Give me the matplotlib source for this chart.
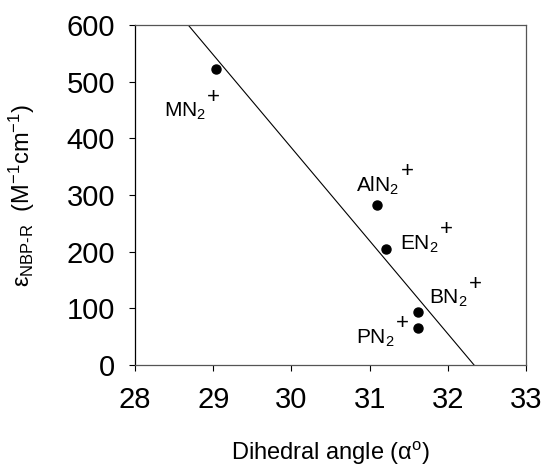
import numpy as np
import matplotlib
matplotlib.use("Agg")
import matplotlib.pyplot as plt

plt.rcParams['font.family'] = ['Liberation Sans', 'DejaVu Sans']
plt.rcParams['mathtext.fontset'] = 'custom'
plt.rcParams['mathtext.rm'] = 'Liberation Sans'
plt.rcParams['mathtext.it'] = 'Liberation Sans:italic'
plt.rcParams['mathtext.bf'] = 'Liberation Sans:bold'

# dihedral angle vs molar absorptivity
names = ['MN', 'AlN', 'EN', 'BN', 'PN']
angle = [29.04, 31.09, 31.21, 31.615, 31.615]
eps = [522, 282, 205, 93, 65]

# label anchors (left edge / baseline of the text) in data units
lab_x = [28.37, 30.83, 31.39, 31.76, 30.83]
lab_y = [438, 306, 204, 108, 38]

fig = plt.figure(figsize=(5.45, 4.72), dpi=100)
ax = fig.add_axes([0.2477, 0.2267, 0.7174, 0.7203])

ax.plot(angle, eps, 'o', color='black', markersize=6.5, zorder=3)

# least squares line, drawn between y=600 and y=0
slope, icept = np.polyfit(angle, eps, 1)
xl = np.array([(600 - icept) / slope, (0 - icept) / slope])
ax.plot(xl, slope * xl + icept, color='black', lw=0.8)

for n, x, y in zip(names, lab_x, lab_y):
    t = ax.text(x, y, n + '$_2$', fontsize=15, ha='left', va='baseline')
    # charge sign sits up and to the right of the subscript
    ax.annotate('+', xy=(1, 0), xycoords=t, xytext=(5.5, 18),
                textcoords='offset points', fontsize=16, ha='center', va='center')

ax.set_xlim(28, 33)
ax.set_ylim(0, 600)
ax.set_xticks(range(28, 34))
ax.set_yticks(range(0, 601, 100))
ax.tick_params(axis='x', direction='out', length=4, width=0.8, pad=11, labelsize=21)
ax.tick_params(axis='y', direction='out', length=4.3, width=0.8, pad=10, labelsize=21)

for side in ['top', 'right', 'bottom', 'left']:
    ax.spines[side].set_linewidth(0.9)
    ax.spines[side].set_color('#555555')
ax.spines['left'].set_color('black')

ax.set_xlabel('Dihedral angle (α$^{\\mathrm{o}}$)', fontsize=17)
ax.set_ylabel('ε$_{\\mathrm{NBP\\text{-}R}}$  (M$^{-1}$cm$^{-1}$)', fontsize=17)
ax.xaxis.set_label_coords(0.5, -0.22)
ax.yaxis.set_label_coords(-0.25, 0.5)

fig.savefig('out.png', dpi=100)
